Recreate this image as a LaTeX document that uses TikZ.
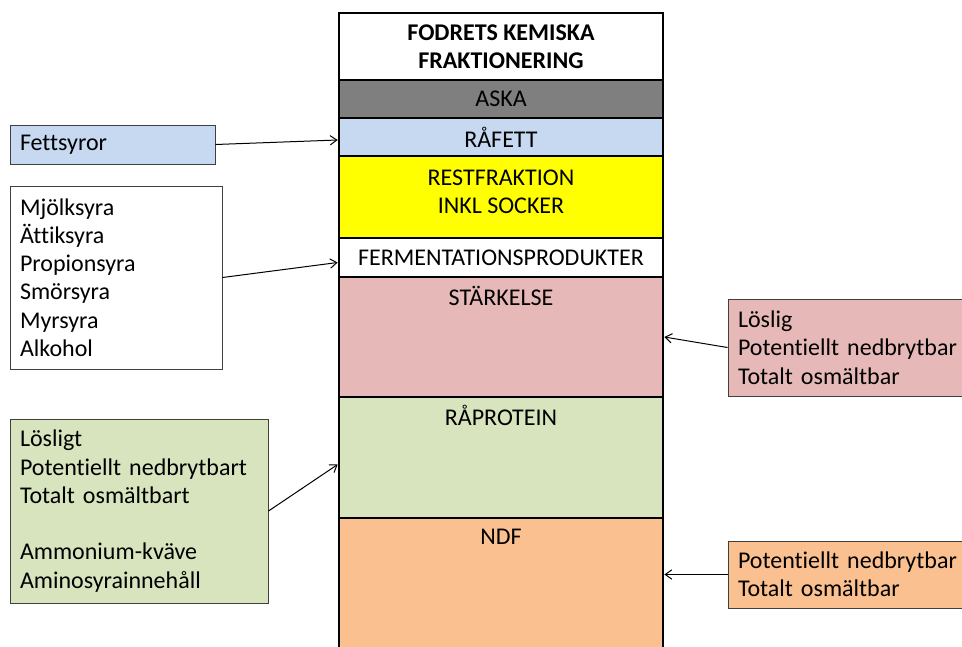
\documentclass[tikz,border=0pt]{standalone}
\usepackage{fontspec}
\setmainfont{Carlito}[Ligatures=NoCommon]
\usetikzlibrary{arrows.meta,calc}
\definecolor{askagray}{HTML}{7F7F7F}
\definecolor{lblue}{HTML}{C6D9F1}
\definecolor{lyellow}{HTML}{FFFF00}
\definecolor{lpink}{HTML}{E6B9B8}
\definecolor{lgreen}{HTML}{D7E4BD}
\definecolor{lorange}{HTML}{FAC090}
\definecolor{sidegray}{HTML}{404040}
\begin{document}
\begin{tikzpicture}[x=0.75pt,y=-0.75pt,
  every node/.style={font=\fontsize{18}{21.2}\selectfont, text=black},
  sec/.style={draw=black, line width=2pt, minimum width=243pt, inner sep=0pt, align=center},
  side/.style={draw=sidegray, line width=0.75pt, inner xsep=7.5pt, inner ysep=0pt, align=left},
  arr/.style={-{Straight Barb[length=5pt,width=7pt]}, line width=0.75pt, black},
  lbl/.style={anchor=base, inner sep=0pt, align=center}]
\useasboundingbox (0,0) rectangle (962,646);
\clip (0,0) rectangle (962,646);
\fill[white] (0,0) rectangle (962,646);
% column
\node[sec, fill=white, minimum height=50.25pt, font=\fontsize{18}{21.2}\selectfont\bfseries] (title) at (501,46.5) {FODRETS KEMISKA\\FRAKTIONERING};
\node[sec, fill=askagray, minimum height=28.5pt] (aska) at (501,99) {ASKA};
\node[sec, fill=lblue, minimum height=28.5pt] (rafett) at (501,137) {RÅFETT};
\node[sec, fill=lyellow, minimum height=61.5pt] (rest) at (501,197) {};
\node[sec, fill=white, minimum height=29.25pt] (ferm) at (501,257.5) {FERMENTATIONSPRODUKTER};
\node[sec, fill=lpink, minimum height=90pt] (stark) at (501,337) {};
\node[sec, fill=lgreen, minimum height=90.75pt] (rapro) at (501,457.5) {};
\node[sec, fill=lorange, minimum height=120pt] (ndf) at (501,598) {};
% labels
\node[lbl] (restlbl) at (501,185) {\begin{tabular}[t]{@{}c@{}}RESTFRAKTION\\INKL SOCKER\end{tabular}};
\node[lbl] (starklbl) at (501,305) {STÄRKELSE};
\node[lbl] (raprolbl) at (501,425) {RÅPROTEIN};
\node[lbl] (ndflbl) at (501,544) {NDF};
% side boxes
\node[side, fill=lblue, minimum height=29.25pt, text width=138.75pt] (fett) at (112.5,144.5) {Fettsyror};
\node[side, fill=white, minimum height=137.25pt, text width=144pt] (list) at (116,277.5) {Mjölksyra\\Ättiksyra\\Propionsyra\\Smörsyra\\Myrsyra\\Alkohol};
\node[side, fill=lgreen, minimum height=138pt, text width=178.5pt] (green) at (139,511) {Lösligt\\Potentiellt nedbrytbart\\Totalt osmältbart\\[21.2pt]Ammonium-kväve\\Aminosyrainnehåll};
\node[side, fill=lpink, minimum height=72.75pt, text width=185.25pt] (pinkbox) at (861.5,347.5) {Löslig\\Potentiellt nedbrytbar\\Totalt osmältbar};
\node[side, fill=lorange, minimum height=50.25pt, text width=185.25pt] (obox) at (861.5,574.5) {Potentiellt nedbrytbar\\Totalt osmältbar};
% arrows
\draw[arr] (fett.east) -- ($(rafett.west)+(0,3)$);
\draw[arr] (list.east) -- ($(ferm.west)+(0,5)$);
\draw[arr] (green.east) -- ($(rapro.west)+(0,7)$);
\draw[arr] (pinkbox.west) -- (stark.east);
\draw[arr] (obox.west) -- (obox.west -| ndf.east);
\end{tikzpicture}
\end{document}
